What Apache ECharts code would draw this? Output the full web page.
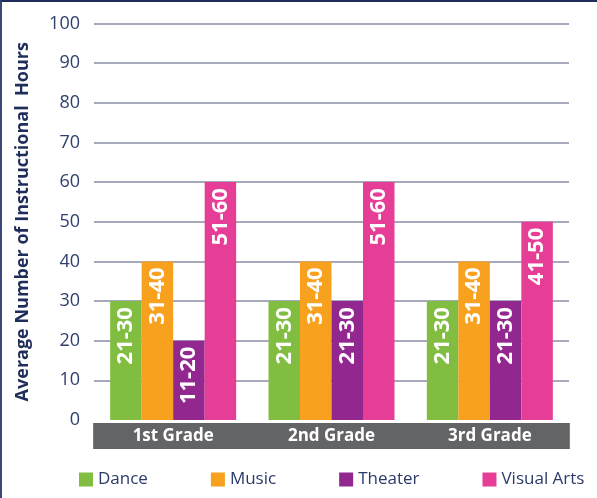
<!DOCTYPE html>
<html>
<head>
<meta charset="utf-8">
<script src="https://cdn.jsdelivr.net/npm/echarts@6/dist/echarts.min.js"></script>
<style>
html,body{margin:0;padding:0;background:#fff;}
#frame{position:absolute;left:0;top:0;width:597px;height:498px;box-sizing:border-box;border-top:2px solid #1f2d5a;border-left:2px solid #3a4a78;pointer-events:none;}
#chart{position:absolute;left:0;top:0;width:597px;height:498px;}
</style>
</head>
<body>
<div id="chart"></div>
<div id="frame"></div>
<script>
const categories = ['1st Grade', '2nd Grade', '3rd Grade'];
const seriesNames = ['Dance', 'Music', 'Theater', 'Visual Arts'];
const dance = [30, 30, 30];
const music = [40, 40, 40];
const theater = [20, 30, 30];
const visualArts = [60, 60, 50];
const danceLabels = ['21-30', '21-30', '21-30'];
const musicLabels = ['31-40', '31-40', '31-40'];
const theaterLabels = ['11-20', '21-30', '21-30'];
const visualArtsLabels = ['51-60', '51-60', '41-50'];
const yTicks = [0, 10, 20, 30, 40, 50, 60, 70, 80, 90, 100];
const colors = ['#80bd41', '#f7a11e', '#92278f', '#e63e96'];

const FONT = '"Open Sans", Lato, sans-serif';
const gridColor = '#8a8ca6';
const splitColors = yTicks.map((v, i) => i === 0 ? 'rgba(0,0,0,0)' : gridColor);

function mkSeries(name, values, labels, color) {
  return {
    name: name,
    type: 'bar',
    data: values,
    barWidth: 31.5,
    barGap: '0%',
    itemStyle: { color: color },
    label: {
      show: true,
      position: 'insideTop',
      distance: 6,
      rotate: 90,
      align: 'right',
      verticalAlign: 'middle',
      color: '#ffffff',
      fontFamily: FONT,
      fontWeight: 'bold',
      fontSize: 22,
      formatter: p => labels[p.dataIndex]
    }
  };
}

const chart = echarts.init(document.getElementById('chart'), null, { renderer: 'canvas' });
chart.setOption({
  animation: false,
  backgroundColor: '#ffffff',
  grid: { left: 94, right: 28, top: 23.5, bottom: 78, containLabel: false },
  legend: {
    data: seriesNames,
    left: 74,
    top: 466,
    icon: 'rect',
    itemWidth: 14,
    itemHeight: 14,
    itemGap: 63,
    textStyle: { color: '#2b3a6b', fontSize: 17, fontFamily: FONT }
  },
  xAxis: {
    type: 'category',
    data: categories,
    axisLine: { show: false },
    axisTick: { show: false },
    axisLabel: {
      interval: 0,
      hideOverlap: false,
      margin: 3,
      width: 160,
      height: 26,
      lineHeight: 26,
      align: 'center',
      verticalAlign: 'top',
      backgroundColor: '#636466',
      color: '#ffffff',
      fontFamily: FONT,
      fontWeight: 'bold',
      fontSize: 17
    },
    splitLine: { show: false }
  },
  yAxis: {
    type: 'value',
    min: 0,
    max: 100,
    interval: 10,
    name: 'Average Number of Instructional  Hours',
    nameLocation: 'middle',
    nameGap: 62,
    nameTextStyle: { color: '#1f2d5a', fontFamily: FONT, fontWeight: 'bold', fontSize: 18 },
    axisLine: { show: false },
    axisTick: { show: false },
    axisLabel: { color: '#2e3f6e', fontSize: 18, fontFamily: FONT, margin: 14 },
    splitLine: { show: true, lineStyle: { color: splitColors, width: 1.5 } }
  },
  series: [
    mkSeries(seriesNames[0], dance, danceLabels, colors[0]),
    mkSeries(seriesNames[1], music, musicLabels, colors[1]),
    mkSeries(seriesNames[2], theater, theaterLabels, colors[2]),
    mkSeries(seriesNames[3], visualArts, visualArtsLabels, colors[3])
  ]
});
</script>
</body>
</html>
